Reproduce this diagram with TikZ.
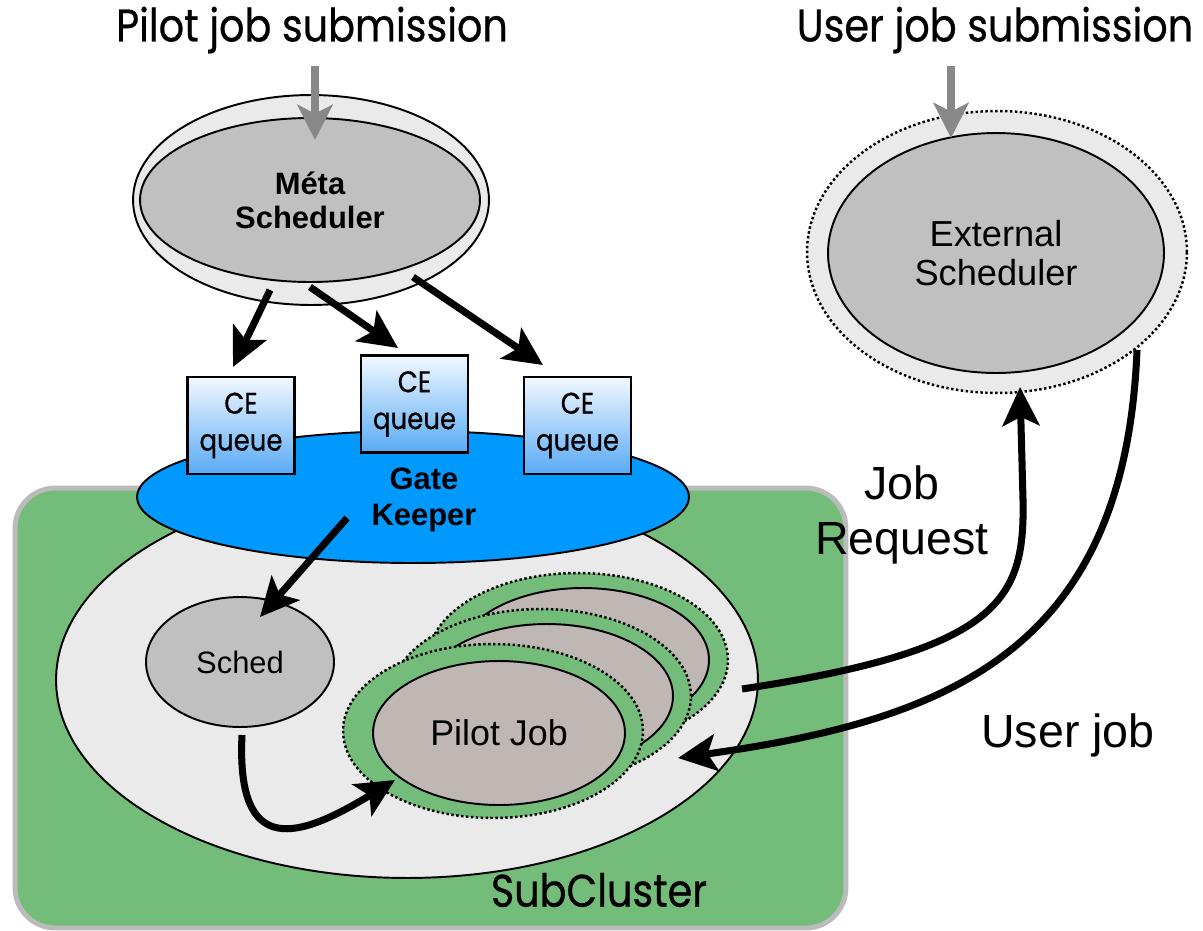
\documentclass[tikz,border=0pt]{standalone}
\usepackage{fontspec}
\setmainfont{Liberation Sans}
\newfontfamily\geofont{Poppins}[FakeBold=0.6,FakeStretch=0.87]
\usetikzlibrary{arrows.meta,shapes.geometric}
\definecolor{cgreen}{HTML}{74BC79}
\definecolor{cborder}{HTML}{BBBBBB}
\definecolor{clight}{HTML}{EAEAEA}
\definecolor{cgray}{HTML}{C0C0C0}
\definecolor{ctaupe}{HTML}{BFB7B4}
\definecolor{cblue}{HTML}{0099FF}
\definecolor{carrowgray}{HTML}{888888}
\definecolor{cboxtop}{HTML}{F2F8FF}
\definecolor{cboxbot}{HTML}{58AAF6}
\begin{document}
\begin{tikzpicture}[x=0.02cm,y=-0.02cm,
  ell/.style={ellipse, draw=black, line width=1.1pt, inner sep=0pt, align=center},
  dotline/.style={line width=1.4pt, dash pattern=on 1.4pt off 1.4pt},
  bigarrow/.style={line width=4pt, -{Stealth[length=22pt,width=21pt,inset=5pt]}},
  grayarrow/.style={line width=4pt, draw=carrowgray, -{Stealth[length=20pt,width=20pt,inset=5pt,fill=carrowgray]}},
  cebox/.style={rectangle, draw=black, line width=1.6pt, top color=cboxtop, bottom color=cboxbot,
    minimum width=2.14cm, minimum height=1.94cm, inner sep=0pt, align=center,
    font=\geofont\fontsize{17pt}{21pt}\selectfont},
  pilotout/.style={ellipse, fill=cgreen, draw=black, dotline, inner sep=0pt,
    minimum width=6cm, minimum height=3.48cm},
  pilotin/.style={ell, fill=ctaupe, minimum width=5.04cm, minimum height=2.88cm},
  title/.style={font=\geofont\fontsize{26pt}{30pt}\selectfont, inner sep=0pt},
  plainlabel/.style={font=\fontsize{26.5pt}{31pt}\selectfont, align=center, inner sep=0pt}
]
\useasboundingbox (0,0) rectangle (1203,930);

% titles
\node[title] (ptitle) at (312,30) {Pilot job submission};
\node[title] (utitle) at (995,30) {User job submission};

% subcluster box
\node[rectangle, rounded corners=0.8cm, fill=cgreen, draw=cborder, line width=2.8pt,
  minimum width=16.62cm, minimum height=8.8cm] (subcluster) at (430.5,708) {};
\node[title] (sctext) at (599,890) {SubCluster};

% cluster ellipse
\node[ell, fill=clight, minimum width=14.04cm, minimum height=7.92cm] (cluster) at (407,680) {};

% gatekeeper
\node[ell, fill=cblue, minimum width=11.04cm, minimum height=2.64cm] (gk) at (413,497) {};
\node[font=\bfseries\fontsize{17.6pt}{20.4pt}\selectfont, align=center, inner sep=0pt] (gktext) at (424,500) {Gate\\Keeper};

% CE queues
\node[cebox] (ce1) at (241,425.5) {CE\\queue};
\node[cebox] (ce2) at (414.5,404) {CE\\queue};
\node[cebox] (ce3) at (577.5,425.5) {CE\\queue};

% sched
\node[ell, fill=cgray, minimum width=3.76cm, minimum height=2.6cm, font=\fontsize{17.6pt}{20pt}\selectfont] (sched) at (240,662) {Sched};

% pilot job stack
\node[pilotout] (p3out) at (578,660) {};
\node[pilotin] (p3in) at (583,660) {};
\node[pilotout] (p2out) at (541,696) {};
\node[pilotin] (p2in) at (547,696) {};
\node[pilotout] (p1out) at (493,731) {};
\node[pilotin, font=\fontsize{20.4pt}{24pt}\selectfont] (pilot) at (499,733) {Pilot Job};

% meta scheduler
\node[ell, fill=clight, minimum width=7.12cm, minimum height=4.2cm] (metaout) at (311,200) {};
\node[ell, fill=cgray, minimum width=6.8cm, minimum height=3.28cm,
  font=\bfseries\fontsize{17.6pt}{19.3pt}\selectfont] (meta) at (310,200) {Méta\\Scheduler};

% external scheduler
\node[ellipse, fill=clight, draw=black, dotline, inner sep=0pt,
  minimum width=7.6cm, minimum height=5.64cm] (extout) at (997,252) {};
\node[ell, fill=cgray, minimum width=6.72cm, minimum height=4.8cm,
  font=\fontsize{20.6pt}{22.7pt}\selectfont] (ext) at (996,253) {External\\Scheduler};

% labels
\node[plainlabel] (jobreq) at (902,515) {Job\\Request};
\node[plainlabel] (userjob) at (1068,735) {User job};

% connector end points
\coordinate (pa) at (315,66);
\coordinate (pb) at (315,140);
\coordinate (ua) at (951,66);
\coordinate (ub) at (951,138);
\coordinate (m1) at (270,290);
\coordinate (c1) at (233,367);
\coordinate (m2) at (310,287);
\coordinate (c2) at (398,348);
\coordinate (m3) at (413,277);
\coordinate (c3) at (543,365);
\coordinate (g1) at (347,518);
\coordinate (s1) at (260,617);
\coordinate (s2) at (242,735);
\coordinate (pj) at (395,780);
\coordinate (jr1) at (742,689);
\coordinate (jr2) at (1020,387);
\coordinate (uj1) at (1137,350);
\coordinate (uj2) at (678,758);

% arrows
\draw[grayarrow] (pa) -- (pb);
\draw[grayarrow] (ua) -- (ub);
\draw[bigarrow] (m1) -- (c1);
\draw[bigarrow] (m2) -- (c2);
\draw[bigarrow] (m3) -- (c3);
\draw[bigarrow] (g1) -- (s1);
\draw[bigarrow] (s2) .. controls (236,860) and (300,838) .. (pj);
\draw[bigarrow] (jr1) .. controls (1000,650) and (1025,600) .. (1023,500) -- (jr2);
\draw[bigarrow] (uj1) .. controls (1125,650) and (950,720) .. (uj2);
\end{tikzpicture}
\end{document}
